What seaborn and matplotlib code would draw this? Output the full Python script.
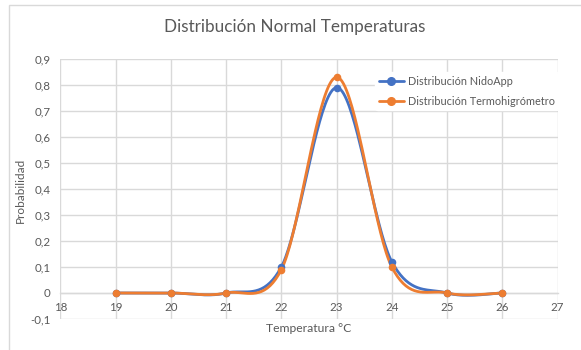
import numpy as np
import pandas as pd
import matplotlib
matplotlib.use("Agg")
import matplotlib.pyplot as plt
import seaborn as sns
from matplotlib.lines import Line2D
from matplotlib.patches import Rectangle

# ---- data ----
temperatures = [19, 20, 21, 22, 23, 24, 25, 26]
nidoapp = [0.0, 0.0, 0.0, 0.10, 0.79, 0.12, 0.0, 0.0]
termo = [0.0, 0.0, 0.0, 0.09, 0.83, 0.10, 0.0, 0.0]
series_names = ["Distribución NidoApp", "Distribución Termohigrómetro"]
x_ticks = list(range(18, 28))
y_ticks = [-0.1, 0.0, 0.1, 0.2, 0.3, 0.4, 0.5, 0.6, 0.7, 0.8, 0.9]
y_tick_labels = ["-0,1", "0", "0,1", "0,2", "0,3", "0,4", "0,5", "0,6", "0,7", "0,8", "0,9"]

colors = ["#4472C4", "#ED7D31"]
text_color = "#595959"
grid_color = "#D9D9D9"

sns.set_style("white")
plt.rcParams["font.family"] = ["Lato", "DejaVu Sans"]


def smooth(xs, ys, n=40):
    """Excel-like smoothed line: cubic Bezier with Catmull-Rom control points."""
    xs = np.asarray(xs, float)
    ys = np.asarray(ys, float)
    P = np.column_stack([xs, ys])
    out = []
    for i in range(len(P) - 1):
        p0 = P[i - 1] if i > 0 else P[i]
        p1 = P[i]
        p2 = P[i + 1]
        p3 = P[i + 2] if i + 2 < len(P) else P[i + 1]
        c1 = p1 + (p2 - p0) / 6.0
        c2 = p2 - (p3 - p1) / 6.0
        t = np.linspace(0, 1, n)[:, None]
        seg = ((1 - t) ** 3) * p1 + 3 * ((1 - t) ** 2) * t * c1 + 3 * (1 - t) * t ** 2 * c2 + t ** 3 * p2
        out.append(seg if i == 0 else seg[1:])
    s = np.vstack(out)
    return s[:, 0], s[:, 1]


fig = plt.figure(figsize=(5.81, 3.5), dpi=100)
ax = fig.add_axes([0.104, 0.0886, 0.8556, 0.7428])

# outer chart border
fig.patches.append(Rectangle((9 / 581, -0.1), 1.2, (345 / 350) + 0.1, transform=fig.transFigure,
                             fill=False, edgecolor="#D9D9D9", linewidth=1.0, zorder=0))

for vals, name, col in zip([nidoapp, termo], series_names, colors):
    sx, sy = smooth(temperatures, vals)
    sm = pd.DataFrame({"x": sx, "y": sy})
    sns.lineplot(data=sm, x="x", y="y", ax=ax, color=col, linewidth=2.0, sort=False,
                 legend=False, zorder=3)
    pts = pd.DataFrame({"x": temperatures, "y": vals})
    sns.scatterplot(data=pts, x="x", y="y", ax=ax, color=col, s=30, edgecolor=col,
                    linewidth=0, legend=False, zorder=4)

ax.set_xlim(18, 27)
ax.set_ylim(-0.1, 0.9)
ax.set_xticks(x_ticks)
ax.set_yticks(y_ticks)
ax.set_yticklabels(y_tick_labels)
ax.grid(True, color=grid_color, linewidth=1.0, zorder=0)
ax.set_axisbelow(True)
for s in ["top", "right", "left"]:
    ax.spines[s].set_visible(False)
ax.spines["bottom"].set_position(("data", 0))
ax.spines["bottom"].set_color(grid_color)
ax.spines["bottom"].set_linewidth(1.0)
ax.tick_params(axis="both", length=0, labelsize=8.3, labelcolor=text_color)
ax.tick_params(axis="x", pad=6.5)
ax.tick_params(axis="y", pad=7)
ax.set_xlabel("")
ax.set_ylabel("")

fig.text(20 / 581, 1 - 190 / 350, "Probabilidad", rotation=90, ha="center", va="center",
         fontsize=8.5, color=text_color)
fig.text(309 / 581, 1 - 328 / 350, "Temperatura °C", ha="center", va="center",
         fontsize=8.7, color=text_color)
fig.text(295 / 581, 1 - 27 / 350, "Distribución Normal Temperaturas", ha="center", va="center",
         fontsize=12.3, color=text_color)

handles = [Line2D([0], [0], color=c, linewidth=2.0, marker="o", markersize=5.5) for c in colors]
leg = ax.legend(handles, series_names, loc="upper left", bbox_to_anchor=(370 / 581, 1 - 67 / 350),
                bbox_transform=fig.transFigure, frameon=True, fontsize=7.8, handlelength=2.3,
                handletextpad=0.4, labelspacing=0.85, borderpad=0.3)
leg.get_frame().set_facecolor("white")
leg.get_frame().set_edgecolor("white")
leg.get_frame().set_alpha(1.0)
for t in leg.get_texts():
    t.set_color(text_color)

fig.savefig("out.png", dpi=100)
